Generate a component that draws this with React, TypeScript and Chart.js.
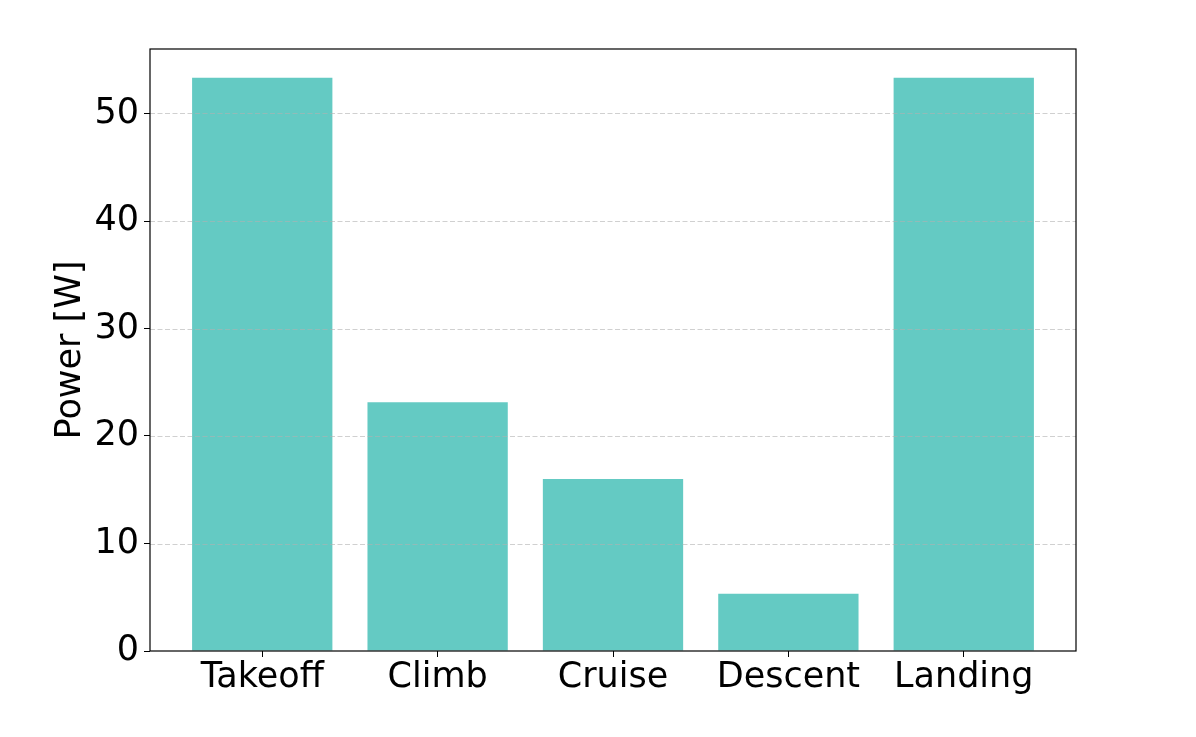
import React, { useEffect, useRef } from 'react';
import { Chart, registerables } from 'chart.js';

Chart.register(...registerables);

const categories = ['Takeoff', 'Climb', 'Cruise', 'Descent', 'Landing'];
const power = [53.33, 23.15, 16.0, 5.33, 53.33];
const yTicks = [0, 10, 20, 30, 40, 50];
const yMax = 56;
const xMin = -0.64;
const xMax = 4.64;

const font = { family: 'DejaVu Sans', size: 35 };

export default function App() {
  const ref = useRef<HTMLCanvasElement>(null);

  useEffect(() => {
    document.body.style.margin = '0';
    const canvas = ref.current!;
    const gridPlugin = {
      id: 'mplGrid',
      afterDatasetsDraw(chart: any) {
        const { ctx, chartArea } = chart;
        const y = chart.scales.y;
        ctx.save();
        ctx.setLineDash([5, 2.5]);
        ctx.strokeStyle = 'rgba(176,176,176,0.6)';
        ctx.lineWidth = 1;
        yTicks.forEach((v) => {
          if (v === 0) return;
          const py = Math.round(y.getPixelForValue(v)) + 0.5;
          ctx.beginPath();
          ctx.moveTo(chartArea.left, py);
          ctx.lineTo(chartArea.right, py);
          ctx.stroke();
        });
        ctx.setLineDash([]);
        ctx.strokeStyle = '#000';
        ctx.lineWidth = 1.2;
        ctx.strokeRect(chartArea.left, chartArea.top, chartArea.right - chartArea.left, chartArea.bottom - chartArea.top);
        ctx.restore();
      },
    };

    const chart = new Chart(canvas, {
      type: 'bar',
      data: {
        datasets: [
          {
            data: categories.map((_, i) => ({ x: i, y: power[i] })),
            backgroundColor: '#64cac3',
            barPercentage: 0.8,
            categoryPercentage: 1,
          },
        ],
      },
      options: {
        animation: false,
        responsive: false,
        maintainAspectRatio: false,
        layout: { padding: { top: 49, right: 120, left: 0, bottom: 0 } },
        plugins: { legend: { display: false }, tooltip: { enabled: false } },
        scales: {
          x: {
            type: 'linear',
            min: xMin,
            max: xMax,
            offset: false,
            afterBuildTicks: (s: any) => {
              s.ticks = categories.map((_, i) => ({ value: i }));
            },
            ticks: {
              callback: (v: any) => categories[v] ?? '',
              font,
              color: '#000',
              padding: 0,
              maxRotation: 0,
              autoSkip: false,
            },
            grid: { drawOnChartArea: false, offset: false, tickLength: 6, tickColor: '#000' },
            border: { display: false },
            afterFit: (s: any) => {
              s.height = 86;
            },
          },
          y: {
            min: 0,
            max: yMax,
            afterBuildTicks: (s: any) => {
              s.ticks = yTicks.map((v) => ({ value: v }));
            },
            ticks: {
              callback: (v: any) => String(v),
              font,
              color: '#000',
              padding: 5,
            },
            grid: { drawOnChartArea: false, tickLength: 6, tickColor: '#000' },
            border: { display: false },
            title: {
              display: true,
              text: 'Power [W]',
              font,
              color: '#000',
              padding: { top: 50, bottom: 0 },
            },
            afterFit: (s: any) => {
              s.width = 150;
            },
          },
        },
      },
      plugins: [gridPlugin],
    } as any);

    return () => chart.destroy();
  }, []);

  return <canvas ref={ref} width={1196} height={737} style={{ display: 'block' }} />;
}
